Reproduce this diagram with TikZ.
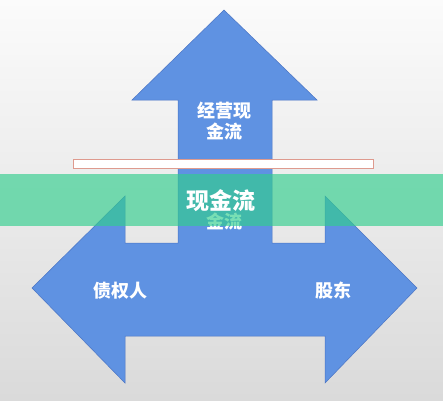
\documentclass[tikz,border=0pt]{standalone}
\usepackage{fontspec}
\newfontfamily\cjk{Noto Sans CJK SC}
\usetikzlibrary{positioning}
\definecolor{ArrowBlue}{HTML}{5F92E2}
\definecolor{ArrowEdge}{HTML}{4A74C4}
\definecolor{BandGreen}{HTML}{31CE8D}
\definecolor{FrameRed}{HTML}{DE9A8E}
\definecolor{BgTop}{HTML}{FBFBFB}
\definecolor{BgBottom}{HTML}{DADADA}
\tikzset{
  arrowlabel/.style={text=white, align=center, inner sep=0pt,
    font=\cjk\bfseries\fontsize{18}{21}\selectfont},
  bandlabel/.style={text=white, inner sep=0pt,
    font=\cjk\bfseries\fontsize{23}{26}\selectfont}
}

\begin{document}
\begin{tikzpicture}[x=1pt, y=-1pt]
  % background
  \fill[top color=BgTop, bottom color=BgBottom] (0,0) rectangle (443,400);
  \useasboundingbox (0,0) rectangle (443,400);

  % up arrow joined with the double arrow
  \filldraw[fill=ArrowBlue, draw=ArrowEdge, line width=0.5pt, line join=miter]
    (224,10) -- (317,100) -- (272,100) -- (272,243) -- (325,243) -- (325,196)
    -- (417,288) -- (325,383) -- (325,336) -- (125,336) -- (125,383)
    -- (32,288) -- (125,196) -- (125,243) -- (178,243) -- (178,100)
    -- (132,100) -- cycle;

  \node[arrowlabel] (opcash) at (224,121) {经营现\\金流};
  \node[arrowlabel] (ghost) at (224,221) {金流};
  \node[arrowlabel] (creditor) at (120,291) {债权人};
  \node[arrowlabel] (holder) at (333,291) {股东};

  % thin frame and green band
  \filldraw[fill=white, draw=FrameRed, line width=0.6pt] (73,159) rectangle (373,168);
  \fill[BandGreen, opacity=0.65] (0,174) rectangle (443,226);
  \node[bandlabel] (cash) at (221,201) {现金流};
\end{tikzpicture}
\end{document}
